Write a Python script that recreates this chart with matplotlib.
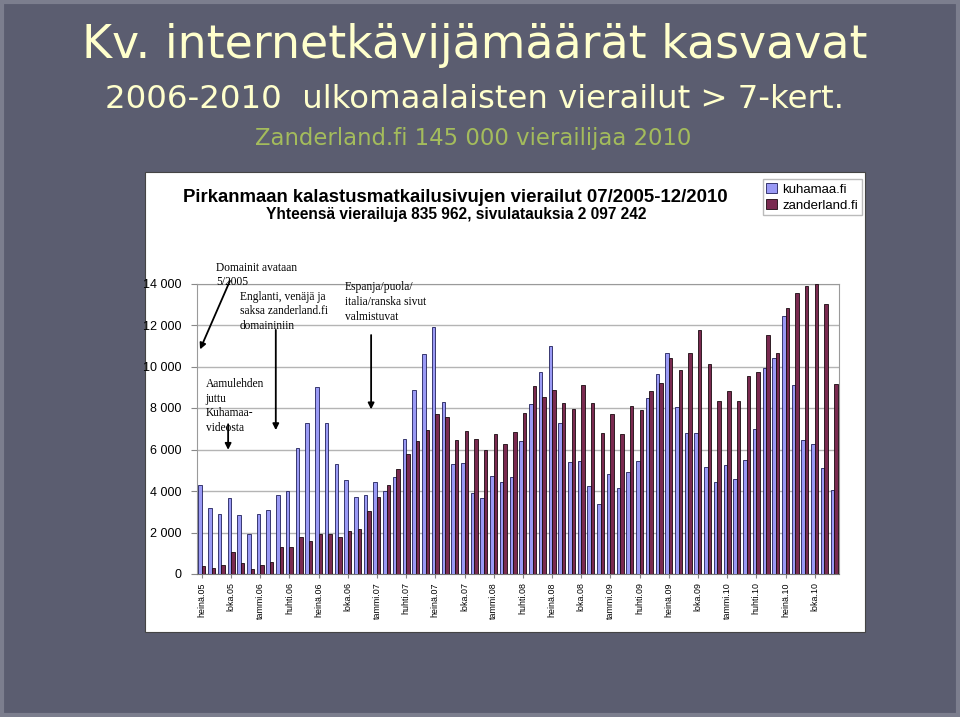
import matplotlib
matplotlib.use("Agg")
import matplotlib.pyplot as plt
from matplotlib.patches import Rectangle
import numpy as np

# monthly visits 07/2005 - 12/2010
kuhamaa = [4300, 3160, 2870, 3680, 2840, 1940,
           2900, 3070, 3820, 4010, 6050, 7300, 8990, 7270, 5300, 4510, 3690, 3790,
           4410, 3980, 4690, 6520, 8860, 10590, 11910, 8280, 5300, 5330, 3880, 3680,
           4700, 4410, 4690, 6420, 8190, 9740, 11010, 7300, 5380, 5440, 4220, 3350,
           4800, 4130, 4930, 5440, 8460, 9630, 10630, 8040, 6790, 6790, 5140, 4410,
           5230, 4560, 5470, 6980, 9950, 10400, 12410, 9090, 6440, 6260, 5090, 4040]
zanderland = [400, 300, 430, 1040, 550, 240,
              430, 580, 1280, 1280, 1770, 1590, 1940, 1940, 1800, 2070, 2180, 3030,
              3690, 4270, 5040, 5790, 6390, 6920, 7720, 7580, 6480, 6890, 6530, 5970,
              6730, 6280, 6820, 7770, 9070, 8540, 8860, 8220, 7950, 9100, 8250, 6800,
              7690, 6760, 8120, 7880, 8840, 9210, 10390, 9840, 10630, 11750, 10140, 8360,
              8800, 8360, 9520, 9740, 11510, 10630, 12810, 13520, 13880, 14000, 13000, 9150]
tick_labels = ['heinä.05', 'loka.05', 'tammi.06', 'huhti.06', 'heinä.06', 'loka.06',
               'tammi.07', 'huhti.07', 'heinä.07', 'loka.07', 'tammi.08', 'huhti.08',
               'heinä.08', 'loka.08', 'tammi.09', 'huhti.09', 'heinä.09', 'loka.09',
               'tammi.10', 'huhti.10', 'heinä.10', 'loka.10']
y_ticks = [0, 2000, 4000, 6000, 8000, 10000, 12000, 14000]

bg = '#5b5d70'
cream = '#ffffcc'

fig = plt.figure(figsize=(9.6, 7.17), dpi=100)
fig.patch.set_facecolor(bg)
fig.patches.append(Rectangle((0.002, 0.003), 0.996, 0.994, transform=fig.transFigure,
                             fill=False, edgecolor='#7c7e8e', lw=3, zorder=-10))

# slide titles
fig.text(0.495, 1 - 45/717, 'Kv. internetkävijämäärät kasvavat', ha='center', va='center',
         fontsize=33, color=cream, family='DejaVu Sans')
fig.text(0.494, 1 - 100/717, '2006-2010  ulkomaalaisten vierailut > 7-kert.', ha='center',
         va='center', fontsize=23.3, color=cream, family='DejaVu Sans')
fig.text(0.493, 1 - 138/717, 'Zanderland.fi 145 000 vierailijaa 2010', ha='center',
         va='center', fontsize=16.4, color='#a4bc5c', family='DejaVu Sans')

# white chart panel
fig.patches.append(Rectangle((145/960, 1 - 632/717), 720/960, 460/717,
                             transform=fig.transFigure, facecolor='white',
                             edgecolor='#444444', lw=0.8, zorder=-5))

fig.text(455/960, 1 - 198/717, 'Pirkanmaan kalastusmatkailusivujen vierailut 07/2005-12/2010',
         ha='center', va='center', fontsize=13.4, fontweight='bold', family='Liberation Sans')
fig.text(456/960, 1 - 214/717, 'Yhteensä vierailuja 835 962, sivulatauksia 2 097 242',
         ha='center', va='center', fontsize=11.2, fontweight='bold', family='Liberation Sans')

ax = fig.add_axes([197/960, 1 - 574/717, 642/960, 290.5/717])
ax.set_facecolor('white')
x = np.arange(len(kuhamaa))
w = 0.36
b1 = ax.bar(x - w/2, kuhamaa, w, color='#9a9af5', edgecolor='#20205a', lw=0.6,
            label='kuhamaa.fi', zorder=3)
b2 = ax.bar(x + w/2, zanderland, w, color='#7a2a50', edgecolor='#1a0a10', lw=0.6,
            label='zanderland.fi', zorder=3)

ax.set_xlim(-0.5, len(kuhamaa) - 0.5)
ax.set_ylim(0, 14000)
ax.set_yticks(y_ticks)
ax.set_yticklabels([f'{v:,}'.replace(',', ' ') for v in y_ticks],
                   fontsize=9, family='Liberation Sans')
ax.set_xticks(x[::3])
ax.set_xticklabels(tick_labels, rotation=90, fontsize=6.4, family='Liberation Sans')
ax.tick_params(axis='y', length=4, color='#888888', pad=7)
ax.tick_params(axis='x', length=3, color='#888888', pad=3)
ax.grid(axis='y', color='#b4b4b4', lw=1, zorder=0)
for s in ax.spines.values():
    s.set_color('#9a9a9a')
ax.spines['bottom'].set_color('#777777')

# notes with arrows
note_font = dict(family='Liberation Serif', fontsize=8.3, va='top', ha='left',
                 linespacing=1.3)
arrow = dict(arrowstyle='-|>', color='black', lw=1.3, mutation_scale=9)
ax.text(1.45, 15050, 'Domainit avataan\n5/2005', clip_on=False, **note_font)
ax.annotate('', xy=(-0.3, 10700), xytext=(3.0, 14250), arrowprops=arrow,
            annotation_clip=False)
ax.text(3.9, 13650, 'Englanti, venäjä ja\nsaksa zanderland.fi\ndomaininiin', **note_font)
ax.annotate('', xy=(7.6, 6800), xytext=(7.6, 11900), arrowprops=arrow)
ax.text(14.7, 14100, 'Espanja/puola/\nitalia/ranska sivut\nvalmistuvat', **note_font)
ax.annotate('', xy=(17.4, 7800), xytext=(17.4, 11650), arrowprops=arrow)
ax.text(0.4, 9450, 'Aamulehden\njuttu\nKuhamaa-\nvideosta', **note_font)
ax.annotate('', xy=(2.7, 5850), xytext=(2.7, 7350), arrowprops=arrow)

fig.legend(handles=[b1, b2], loc='upper right', bbox_to_anchor=(862/960, 1 - 179/717),
           prop={'family': 'Liberation Sans', 'size': 9.5},
           frameon=True, fancybox=False, edgecolor='#aaaaaa', handlelength=0.8,
           handleheight=0.8, handletextpad=0.4, borderpad=0.3, labelspacing=0.25,
           borderaxespad=0)

fig.savefig('out.png', dpi=100, facecolor=bg)
